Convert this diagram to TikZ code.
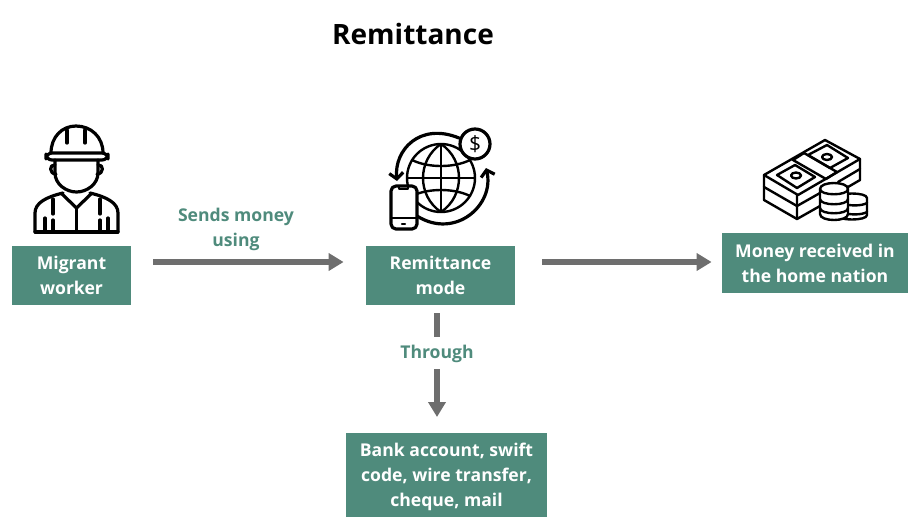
\documentclass[tikz,border=0pt]{standalone}
\usepackage{fontspec}
\setmainfont{Open Sans}
\usepackage{tikz}
\usetikzlibrary{positioning,arrows.meta,calc}
\definecolor{boxteal}{HTML}{4F8B7C}
\definecolor{arrowgray}{HTML}{6E6E6E}
\tikzset{
  flowline/.style={line width=2.6pt, arrowgray},
  flowarrow/.style={flowline, -{Triangle[length=7.5pt, width=8.5pt]}},
  tealbox/.style={fill=boxteal, text=white, font=\bfseries\fontsize{8.8}{12.5}\selectfont, align=center, inner sep=0pt},
  tealtext/.style={text=boxteal, font=\bfseries\fontsize{8.8}{12.5}\selectfont, align=center, inner sep=0pt},
  iconline/.style={line width=1.6pt, black, line join=round, line cap=round},
  thinline/.style={line width=1.2pt, black, line join=round, line cap=round},
  arrowline/.style={iconline, -{Straight Barb[length=3pt, width=7pt]}}
}
\begin{document}
\begin{tikzpicture}[x=0.5pt, y=-0.5pt]
  \useasboundingbox (0,0) rectangle (920,531);
  \node[font=\bfseries\fontsize{14}{17}\selectfont] (title) at (413,34) {Remittance};

  \node[tealbox, minimum width=59.5pt, minimum height=29.5pt] (worker) at (71.5,275.5) {Migrant\\worker};
  \node[tealbox, minimum width=74.5pt, minimum height=29.5pt] (mode) at (440.5,275.5) {Remittance\\mode};
  \node[tealbox, minimum width=93pt, minimum height=30pt] (home) at (815,263) {Money received in\\the home nation};
  \node[tealbox, minimum width=100.5pt, minimum height=42pt] (bank) at (446.5,475) {\rule{0pt}{9pt}Bank account, swift\\code, wire transfer,\\cheque, mail};

  \node[tealtext] (sends) at (236,229) {Sends money\\using};
  \node[tealtext] (through) at (437,354) {Through};

  % connectors
  \coordinate (workerout) at (worker.east |- 0,262);
  \coordinate (modein) at (mode.west |- 0,262);
  \coordinate (modeout) at (mode.east |- 0,262);
  \coordinate (homein) at (home.west |- 0,262);
  \coordinate (modedown) at (437,305);
  \coordinate (bankin) at (437,433);
  \draw[flowarrow, shorten <=11pt, shorten >=11pt] (workerout) -- (modein);
  \draw[flowarrow, shorten <=13.5pt, shorten >=5pt] (modeout) -- (homein);
  \draw[flowline, line width=3.3pt, shorten <=4pt, shorten >=4pt] (modedown) -- (through);
  \draw[flowarrow, line width=3.3pt, shorten <=3pt, shorten >=8pt] (through) -- (bankin);

  % worker icon
  \begin{scope}[iconline]
    \draw[rounded corners=3pt] (46,153) rectangle (108,160);
    \draw (51,153) .. controls (51,137) and (62,126) .. (76,126) .. controls (91,126) and (103,137) .. (103,153);
    \draw (67,143) -- (67,130);
    \draw (85,143) -- (85,130);
    \draw (55,160) -- (55,173) .. controls (55,184) and (66,192) .. (76.5,192) .. controls (87,192) and (98,184) .. (98,173) -- (98,160);
    \draw (55,165) .. controls (49,164) and (49,174) .. (56,174);
    \draw (98,165) .. controls (104,164) and (104,174) .. (97,174);
    \draw (35,232) -- (35,213) .. controls (35,203) and (46,197) .. (63,193);
    \draw (118,232) -- (118,213) .. controls (118,203) and (107,197) .. (90,193);
    \draw (35,232) -- (118,232);
    \draw (62,194) -- (76.5,208) -- (91,194);
    \draw (76.5,208) -- (76.5,232);
    \draw (45,218) -- (45,232);
    \draw (108,218) -- (108,232);
    \draw (53,199) -- (53,214);
    \draw (53,220) -- (53,232);
    \draw (100,199) -- (100,214);
    \draw (100,220) -- (100,232);
  \end{scope}

  % globe icon
  \begin{scope}[thinline]
    \draw (441,178) circle [x radius=34, y radius=-34];
    \draw (441,144) -- (441,212);
    \draw (407,178) -- (475,178);
    \draw (441,144) .. controls (417,160) and (417,196) .. (441,212);
    \draw (441,144) .. controls (465,160) and (465,196) .. (441,212);
    \draw (412,160) .. controls (428,168) and (454,168) .. (470,160);
    \draw (412,196) .. controls (428,188) and (454,188) .. (470,196);
  \end{scope}
  \draw[arrowline] (459,138) .. controls (420,122) and (394,150) .. (397,181);
  \draw[arrowline] (417,216) .. controls (455,240) and (495,205) .. (486,168);
  \draw[iconline, fill=white, rounded corners=2.5pt] (391,186) rectangle (417,229);
  \draw[thinline] (399,187) -- (399,189) -- (408,189) -- (408,187);
  \draw[thinline] (391,218) -- (417,218);
  \draw[thinline] (402,224) -- (405,224);
  \draw[iconline, fill=white] (475,144) circle [x radius=15, y radius=-15];
  \node[font=\fontsize{10.5}{12}\selectfont, inner sep=0pt] (dollar) at (475,144) {\$};

  % money icon
  \begin{scope}[thinline]
    \draw (764,175) -- (825,140) -- (860,159) -- (798,195) -- cycle;
    \draw (764,175) -- (764,200) -- (797,219);
    \draw (764,187) -- (797,206) -- (820,193);
    \draw (797,195) -- (797,219) -- (820,206);
    \draw (860,159) -- (860,180) -- (848,187);
    \draw (860,169) -- (838,182);
    \draw (793,160) -- (804,153) -- (837,172) -- (826,179) -- cycle;
    \draw (777,175) -- (795,165) -- (815,177) -- (797,188) -- cycle;
    \draw (796,175.5) circle [x radius=5, y radius=-3];
    \draw (808,155) -- (827,145) -- (848,158) -- (830,168) -- cycle;
    \draw (827,157) circle [x radius=5, y radius=-3];
    \draw[fill=white] (837,198) -- (837,215) .. controls (837,221) and (867,221) .. (867,215) -- (867,198) .. controls (867,192) and (837,192) .. (837,198) -- cycle;
    \draw (845,204) .. controls (850,206) and (862,206) .. (867,203);
    \draw (845,213) .. controls (850,215) and (862,215) .. (867,212);
    \draw[fill=white] (820,189) -- (820,214) .. controls (820,222) and (848,222) .. (848,214) -- (848,189) .. controls (848,181) and (820,181) .. (820,189) -- cycle;
    \draw (820,189) .. controls (820,196) and (848,196) .. (848,189);
    \draw (820,199) .. controls (820,206) and (848,206) .. (848,199);
    \draw (820,208) .. controls (820,215) and (848,215) .. (848,208);
  \end{scope}
\end{tikzpicture}
\end{document}
